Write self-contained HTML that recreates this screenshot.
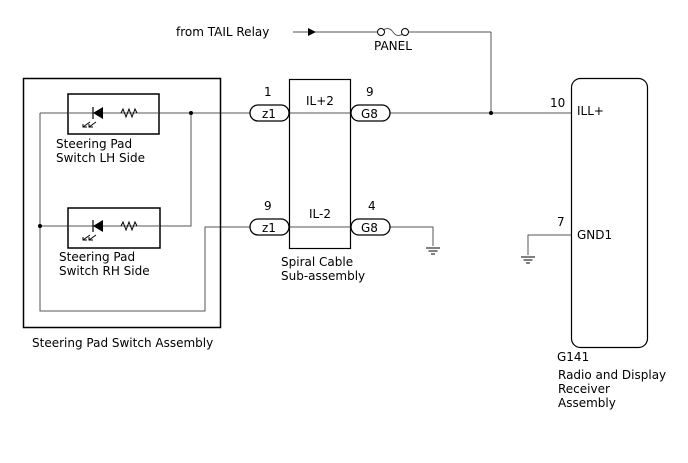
<!DOCTYPE html>
<html><head><meta charset="utf-8"><style>
html,body{margin:0;padding:0;background:#fff;}
svg{display:block;}
text{font-family:"DejaVu Sans","Liberation Sans",sans-serif;font-size:12px;fill:#000;}
</style></head><body>
<svg width="688" height="463" viewBox="0 0 688 463" xmlns="http://www.w3.org/2000/svg">
<defs>
<g id="led">
  <line x1="0" y1="0" x2="10" y2="0" stroke="#000" stroke-width="1"/>
  <polygon points="0,0 10,-6 10,6" fill="#000"/>
  <line x1="0" y1="-6" x2="0" y2="6" stroke="#000" stroke-width="1.2"/>
  <path d="M28,0 l2,-4 l3,8 l3,-8 l3,8 l3,-8 l2,4" fill="none" stroke="#000" stroke-width="1"/>
  <path d="M-3,9 l-7,5 M-6,14 h-4 v-3 M3,9 l-7,5 M0,14 h-4 v-3" fill="none" stroke="#000" stroke-width="1"/>
</g>
<g id="gnd" stroke="#000" stroke-width="1">
  <line x1="-7" y1="0" x2="7" y2="0"/>
  <line x1="-4.5" y1="3" x2="4.5" y2="3"/>
  <line x1="-2" y1="6" x2="2" y2="6"/>
</g>
</defs>
<g fill="none" stroke="#555" stroke-width="1">
  <!-- top feed -->
  <line x1="293" y1="32" x2="377" y2="32"/>
  <path d="M381,32 q7,-7 12,0 q5,7 12,0"/>
  <line x1="409" y1="32" x2="491" y2="32"/>
  <line x1="491" y1="32" x2="491" y2="113"/>
  <!-- top wire -->
  <line x1="40" y1="113" x2="250" y2="113"/>
  <line x1="289" y1="113" x2="351" y2="113"/>
  <line x1="390" y1="113" x2="571" y2="113"/>
  <!-- bottom wire -->
  <line x1="289" y1="227" x2="351" y2="227"/>
  <path d="M390,227 H433 V246"/>
  <path d="M571,235 H528 V255"/>
  <!-- internal -->
  <path d="M191,113 V226 H40"/>
  <path d="M40,113 V311 H205 V227 H250"/>
</g>
<polygon points="308,28 316,32 308,36" fill="#000"/>
<circle cx="381" cy="32" r="3.5" fill="#fff" stroke="#000"/>
<circle cx="405" cy="32" r="3.5" fill="#fff" stroke="#000"/>
<circle cx="491" cy="113" r="2" fill="#000"/>
<circle cx="191" cy="113" r="2" fill="#000"/>
<circle cx="40" cy="226" r="2" fill="#000"/>
<use href="#gnd" x="433" y="248"/>
<use href="#gnd" x="528" y="257"/>
<!-- boxes -->
<rect x="23.5" y="78.5" width="197" height="249" fill="none" stroke="#000" stroke-width="1.5"/>
<rect x="68" y="94" width="91" height="40" fill="#fff" stroke="#000" stroke-width="1.5"/>
<rect x="68" y="208" width="92" height="40" fill="#fff" stroke="#000" stroke-width="1.5"/>
<line x1="68" y1="113" x2="159" y2="113" stroke="#555"/>
<line x1="68" y1="226" x2="160" y2="226" stroke="#555"/>
<use href="#led" x="93" y="113"/>
<use href="#led" x="93" y="226"/>
<rect x="289.5" y="79.5" width="61" height="169" fill="none" stroke="#000" stroke-width="1.2"/>
<rect x="571.5" y="78.5" width="76" height="269" rx="9" fill="none" stroke="#000" stroke-width="1.2"/>
<!-- connectors -->
<g fill="#fff" stroke="#000" stroke-width="1.3">
  <rect x="250" y="105" width="39" height="16" rx="8"/>
  <rect x="351" y="105" width="39" height="16" rx="8"/>
  <rect x="250" y="219" width="39" height="16" rx="8"/>
  <rect x="351" y="219" width="39" height="16" rx="8"/>
</g>
<text x="262" y="118">z1</text>
<text x="361" y="118">G8</text>
<text x="262" y="232">z1</text>
<text x="361" y="232">G8</text>
<text x="264" y="96">1</text>
<text x="366" y="96">9</text>
<text x="264" y="210">9</text>
<text x="368" y="210">4</text>
<text x="306" y="105">IL+2</text>
<text x="309" y="218">IL-2</text>
<text x="176" y="36">from TAIL Relay</text>
<text x="374" y="50">PANEL</text>
<text x="550" y="107">10</text>
<text x="577" y="115">ILL+</text>
<text x="557" y="226">7</text>
<text x="577" y="239">GND1</text>
<text x="56" y="148">Steering Pad</text>
<text x="56" y="162">Switch LH Side</text>
<text x="59" y="261">Steering Pad</text>
<text x="59" y="275">Switch RH Side</text>
<text x="32" y="347">Steering Pad Switch Assembly</text>
<text x="281" y="266">Spiral Cable</text>
<text x="281" y="280">Sub-assembly</text>
<text x="557" y="361">G141</text>
<text x="558" y="379">Radio and Display</text>
<text x="558" y="393">Receiver</text>
<text x="558" y="407">Assembly</text>
</svg>
</body></html>
